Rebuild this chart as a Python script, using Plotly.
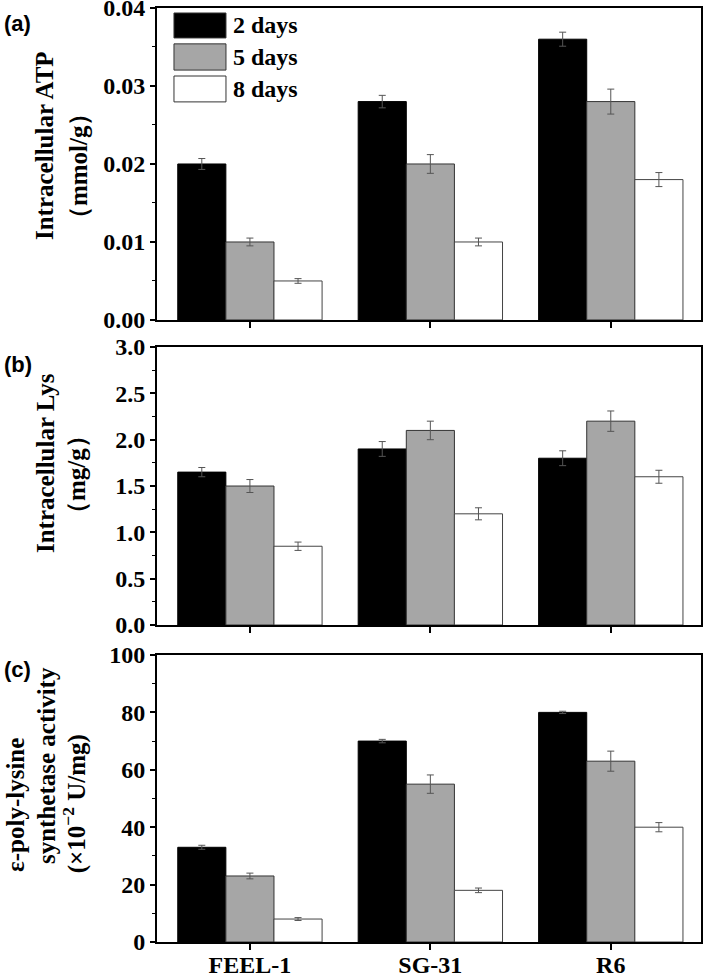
import plotly.graph_objects as go

categories = ["FEEL-1", "SG-31", "R6"]
series_names = ["2 days", "5 days", "8 days"]

atp_2d = [0.020, 0.028, 0.036]
atp_5d = [0.010, 0.020, 0.028]
atp_8d = [0.005, 0.010, 0.018]
atp_2d_err = [0.0007, 0.0008, 0.0009]
atp_5d_err = [0.0005, 0.0012, 0.0016]
atp_8d_err = [0.0003, 0.0005, 0.0009]

lys_2d = [1.65, 1.90, 1.80]
lys_5d = [1.50, 2.10, 2.20]
lys_8d = [0.85, 1.20, 1.60]
lys_2d_err = [0.05, 0.08, 0.08]
lys_5d_err = [0.07, 0.10, 0.11]
lys_8d_err = [0.045, 0.065, 0.07]

pls_2d = [33, 70, 80]
pls_5d = [23, 55, 63]
pls_8d = [8, 18, 40]
pls_2d_err = [0.7, 0.6, 0.4]
pls_5d_err = [1.0, 3.2, 3.5]
pls_8d_err = [0.5, 0.8, 1.6]

fill_colors = ["#000000", "#a6a6a6", "#ffffff"]
edge_colors = ["#000000", "#333333", "#444444"]

SERIF = "Liberation Serif"
SANS = "Liberation Sans"

panels = [
    ("x", "y", [atp_2d, atp_5d, atp_8d], [atp_2d_err, atp_5d_err, atp_8d_err]),
    ("x2", "y2", [lys_2d, lys_5d, lys_8d], [lys_2d_err, lys_5d_err, lys_8d_err]),
    ("x3", "y3", [pls_2d, pls_5d, pls_8d], [pls_2d_err, pls_5d_err, pls_8d_err]),
]

fig = go.Figure()
for xa, ya, vals, errs in panels:
    for i in range(3):
        fig.add_trace(go.Bar(
            x=categories, y=vals[i], name=series_names[i],
            xaxis=xa, yaxis=ya, showlegend=False,
            marker=dict(color=fill_colors[i], line=dict(color=edge_colors[i], width=1)),
            error_y=dict(type="data", array=errs[i], visible=True,
                         color="#555555", thickness=1, width=3.5),
        ))

xrange = [-0.515, 2.5]
common_x = dict(range=xrange, showline=True, linecolor="black", linewidth=2,
                mirror=True, ticks="outside", ticklen=6, tickwidth=2,
                tickcolor="black", showgrid=False, zeroline=False,
                type="category", automargin=False, ticklabeloverflow="allow")
common_y = dict(showline=True, linecolor="black", linewidth=2, mirror=True,
                ticks="outside", ticklen=5, tickwidth=1.5, tickcolor="black",
                showgrid=False, zeroline=False, automargin=False,
                ticklabeloverflow="allow",
                tickfont=dict(family=SERIF, size=24, color="black", weight="bold"))

fig.update_layout(
    width=709, height=978,
    margin=dict(l=157, r=8, t=8, b=36),
    paper_bgcolor="white", plot_bgcolor="white",
    barmode="group", bargap=0.2, bargroupgap=0,
    font=dict(family=SERIF, color="black"),
    xaxis=dict(domain=[0, 1], anchor="y", showticklabels=False, **common_x),
    xaxis2=dict(domain=[0, 1], anchor="y2", showticklabels=False, **common_x),
    xaxis3=dict(domain=[0, 1], anchor="y3", showticklabels=True,
                ticklabelstandoff=-6,
                tickfont=dict(family=SERIF, size=24, color="black", weight="bold"),
                **common_x),
    yaxis=dict(domain=[0.666, 1.0], anchor="x", range=[0, 0.04], dtick=0.01,
               tickformat=".2f",
               minor=dict(dtick=0.005, ticks="outside", ticklen=3, tickwidth=1, tickcolor="black"),
               **common_y),
    yaxis2=dict(domain=[0.3394, 0.637], anchor="x2", range=[0, 3.0], dtick=0.5,
                tickformat=".1f",
                minor=dict(dtick=0.25, ticks="outside", ticklen=3, tickwidth=1, tickcolor="black"),
                **common_y),
    yaxis3=dict(domain=[0, 0.3073], anchor="x3", range=[0, 100], dtick=20,
                minor=dict(dtick=10, ticks="outside", ticklen=3, tickwidth=1, tickcolor="black"),
                **common_y),
)

title_font = dict(family=SERIF, size=25, color="black", weight="bold")
title_lines = [
    ("Intracellular ATP", -0.2077, 0.8522),
    ("（mmol/g）", -0.1452, 0.8308),
    ("Intracellular Lys", -0.2059, 0.5128),
    ("（mg/g）", -0.1471, 0.5011),
    ("ε-poly-lysine", -0.2592, 0.1467),
    ("synthetase activity", -0.2040, 0.1884),
    ("(×10<sup>−2</sup> U/mg)", -0.1500, 0.1478),
]
for txt, xx, yy in title_lines:
    fig.add_annotation(text=txt, x=xx, y=yy, xref="paper", yref="paper",
                       xanchor="center", yanchor="middle", textangle=-90,
                       showarrow=False, font=title_font)

letter_font = dict(family=SANS, size=22, color="black", weight="bold")
for txt, yy in [("(a)", 0.999), ("(b)", 0.6338), ("(c)", 0.3073)]:
    fig.add_annotation(text=txt, x=-0.285, y=yy, xref="paper", yref="paper",
                       xanchor="left", yanchor="top", showarrow=False, font=letter_font)

# legend swatches inside panel (a)
legend_rows = [(0.984, 0.904), (0.885, 0.801), (0.782, 0.699)]
for i, (y1, y0) in enumerate(legend_rows):
    fig.add_shape(type="rect", xref="x domain", yref="y domain",
                  x0=0.0312, x1=0.1268, y0=y0, y1=y1,
                  fillcolor=fill_colors[i], line=dict(color="#333333", width=1))
    fig.add_annotation(text=series_names[i], xref="x domain", yref="y domain",
                       x=0.136, y=(y0 + y1) / 2, xanchor="left", yanchor="middle",
                       showarrow=False,
                       font=dict(family=SERIF, size=24, color="black", weight="bold"))

fig.write_html("out.html", config={"displayModeBar": False},
               post_script="document.body.style.margin='0';document.body.style.padding='0';")
